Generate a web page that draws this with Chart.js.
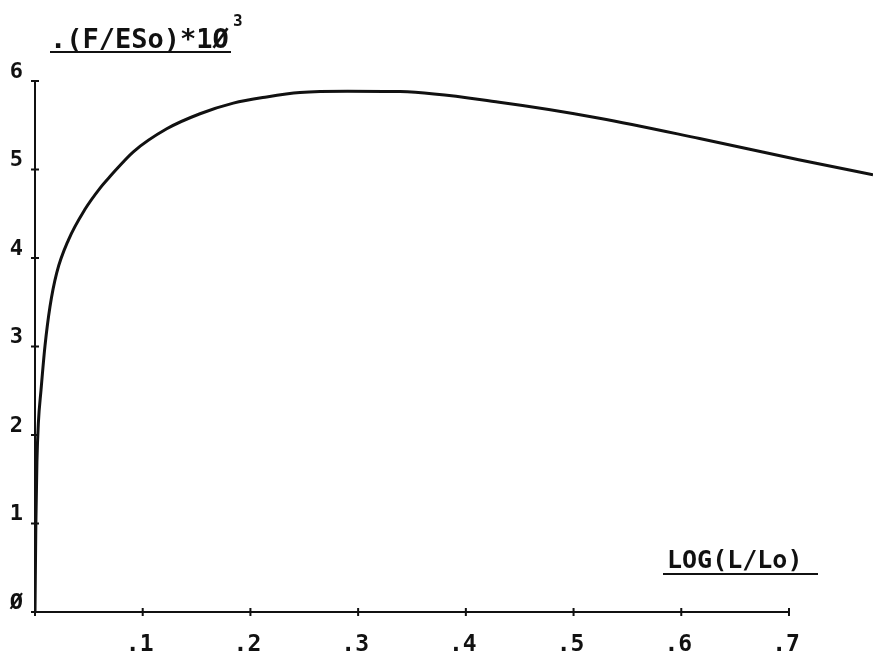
<!DOCTYPE html>
<html lang="en">
<head>
    <meta charset="UTF-8">
    <title>Stress vs log strain</title>
    <script src="https://cdn.jsdelivr.net/npm/chart.js"></script>
    <style>
        html, body {
            margin: 0;
            padding: 0;
            background: #fff;
        }
        #plot {
            display: block;
        }
    </style>
</head>
<body>
    <canvas id="plot" width="873" height="662"></canvas>

    <script>
        // log(L/Lo) along the curve
        const logStretch = [0, 0.0008, 0.0018, 0.0031, 0.0056, 0.0093, 0.0139, 0.0201, 0.0309, 0.0464,
                            0.0604, 0.0696, 0.0913, 0.1223, 0.1532, 0.1841, 0.2151, 0.246, 0.290, 0.339,
                            0.431, 0.524, 0.617, 0.709, 0.778];
        // (F/ESo)*10^3 at each point
        const stress = [0, 1.0, 1.7, 2.13, 2.51, 3.01, 3.45, 3.83, 4.20, 4.55,
                        4.79, 4.92, 5.20, 5.46, 5.63, 5.75, 5.82, 5.87, 5.885, 5.88,
                        5.76, 5.58, 5.35, 5.11, 4.94];

        const xTicks = [0, 0.1, 0.2, 0.3, 0.4, 0.5, 0.6, 0.7];
        const xTickLabels = ['', '.1', '.2', '.3', '.4', '.5', '.6', '.7'];
        const yTicks = [0, 1, 2, 3, 4, 5, 6];
        const yTickLabels = ['Ø', '1', '2', '3', '4', '5', '6'];

        const FONT = "'DejaVu Sans Mono', monospace";
        const INK = '#111';

        // plotter-style axes: line with short crossing tick marks, plus underlined titles
        const plotterAxes = {
            id: 'plotterAxes',
            afterDatasetsDraw(chart) {
                const { ctx, scales: { x, y } } = chart;
                const x0 = x.getPixelForValue(0);
                const y0 = y.getPixelForValue(0);
                ctx.save();
                ctx.strokeStyle = INK;
                ctx.fillStyle = INK;
                ctx.lineWidth = 2;
                ctx.lineCap = 'butt';

                ctx.beginPath();
                ctx.moveTo(x0, y0);
                ctx.lineTo(x0, y.getPixelForValue(yTicks[yTicks.length - 1]));
                ctx.moveTo(x0, y0);
                ctx.lineTo(x.getPixelForValue(xTicks[xTicks.length - 1]), y0);
                yTicks.forEach(v => {
                    const py = y.getPixelForValue(v);
                    ctx.moveTo(x0 - 4, py);
                    ctx.lineTo(x0 + 4, py);
                });
                xTicks.forEach(v => {
                    const px = x.getPixelForValue(v);
                    ctx.moveTo(px, y0 - 4);
                    ctx.lineTo(px, y0 + 4);
                });
                ctx.stroke();

                // y title
                ctx.font = `bold 27px ${FONT}`;
                ctx.textBaseline = 'alphabetic';
                ctx.textAlign = 'left';
                ctx.fillText('.(F/ESo)*1Ø', 50, 48);
                ctx.font = `bold 16px ${FONT}`;
                ctx.fillText('3', 233, 26);
                ctx.beginPath();
                ctx.moveTo(50, 52);
                ctx.lineTo(231, 52);
                ctx.stroke();

                // x title
                ctx.font = `bold 25px ${FONT}`;
                ctx.fillText('LOG(L/Lo)', 667, 568);
                ctx.beginPath();
                ctx.moveTo(663, 574);
                ctx.lineTo(818, 574);
                ctx.stroke();
                ctx.restore();
            }
        };

        new Chart(document.getElementById('plot'), {
            type: 'line',
            data: {
                datasets: [{
                    data: logStretch.map((v, i) => ({ x: v, y: stress[i] })),
                    borderColor: INK,
                    borderWidth: 3,
                    pointRadius: 0,
                    fill: false,
                    cubicInterpolationMode: 'monotone'
                }]
            },
            options: {
                responsive: false,
                animation: false,
                layout: { padding: { top: 81, left: 0, right: 0, bottom: 0 } },
                plugins: {
                    legend: { display: false },
                    tooltip: { enabled: false }
                },
                scales: {
                    x: {
                        type: 'linear',
                        min: 0,
                        max: 0.778,
                        grid: { display: false },
                        border: { display: false },
                        afterBuildTicks: scale => {
                            scale.ticks = xTicks.map(v => ({ value: v }));
                        },
                        afterFit: scale => { scale.height = 50; },
                        ticks: {
                            padding: 11,
                            labelOffset: -3,
                            maxRotation: 0,
                            autoSkip: false,
                            color: INK,
                            font: { family: FONT, size: 23, weight: 'bold' },
                            callback: (v, i) => xTickLabels[i]
                        }
                    },
                    y: {
                        min: 0,
                        max: 6,
                        grid: { display: false },
                        border: { display: false },
                        afterBuildTicks: scale => {
                            scale.ticks = yTicks.map(v => ({ value: v }));
                        },
                        afterFit: scale => { scale.width = 35; },
                        ticks: {
                            padding: 4,
                            labelOffset: -9,
                            autoSkip: false,
                            color: INK,
                            font: { family: FONT, size: 22, weight: 'bold' },
                            callback: (v, i) => yTickLabels[i]
                        }
                    }
                }
            },
            plugins: [plotterAxes]
        });
    </script>
</body>
</html>
